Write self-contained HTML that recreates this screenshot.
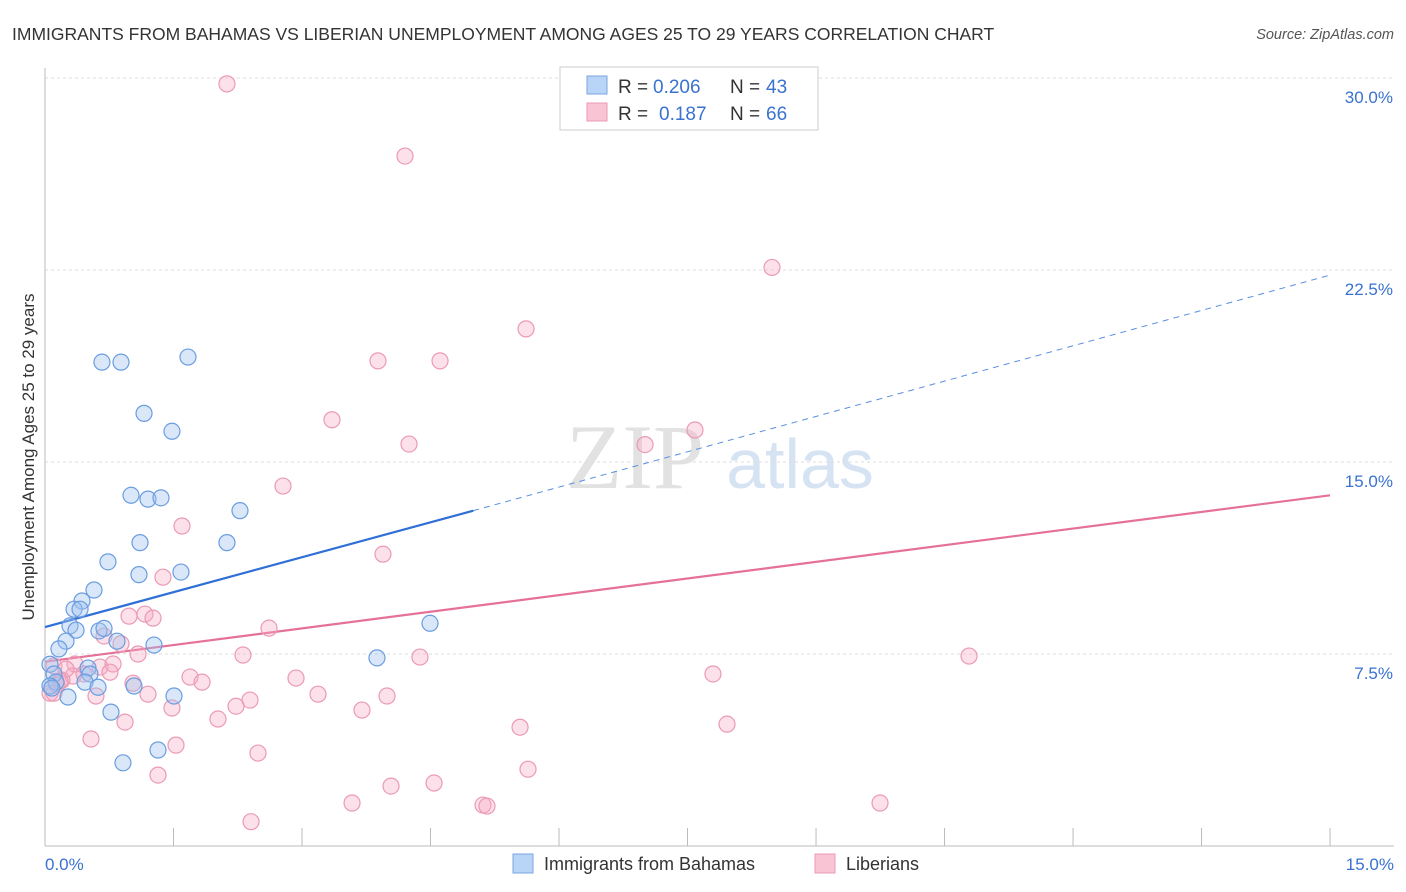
<!DOCTYPE html>
<html><head><meta charset="utf-8"><style>
body{margin:0;background:#fff;font-family:"Liberation Sans",sans-serif}
svg{display:block}
</style></head><body>
<svg id="c" width="1406" height="892">
<text x="12" y="40" font-size="17.5" fill="#333">IMMIGRANTS FROM BAHAMAS VS LIBERIAN UNEMPLOYMENT AMONG AGES 25 TO 29 YEARS CORRELATION CHART</text>
<text x="1394" y="39" font-size="14.5" fill="#555" font-style="italic" text-anchor="end">Source: ZipAtlas.com</text>
<g>
<text x="635" y="488" font-family="Liberation Serif" font-size="92" fill="#e2e2e2" text-anchor="middle">ZIP</text>
<text x="800" y="488" font-size="70" fill="#d6e3f3" text-anchor="middle">atlas</text></g>
<text transform="translate(34,457) rotate(-90)" font-size="17" fill="#333" text-anchor="middle">Unemployment Among Ages 25 to 29 years</text>
<g id="grid"></g><g id="ticks"></g><g id="lines"></g><g id="pts"></g>
<g>
<rect x="560" y="67" width="258" height="63" fill="#fff" stroke="#ccc"/>
<rect x="587" y="76" width="20" height="18" fill="#b8d4f6" stroke="#7aa6e0"/>
<rect x="587" y="103" width="20" height="18" fill="#f9c4d4" stroke="#eb9ab4"/>
<text x="618" y="93" font-size="19" fill="#333">R =</text>
<text x="653" y="93" font-size="19" fill="#3a72d0">0.206</text>
<text x="730" y="93" font-size="19" fill="#333">N =</text>
<text x="766" y="93" font-size="19" fill="#3a72d0">43</text>
<text x="618" y="120" font-size="19" fill="#333">R =</text>
<text x="659" y="120" font-size="19" fill="#3a72d0">0.187</text>
<text x="730" y="120" font-size="19" fill="#333">N =</text>
<text x="766" y="120" font-size="19" fill="#3a72d0">66</text>
</g>
<g>
<rect x="513" y="854" width="20" height="19" fill="#b8d4f6" stroke="#7aa6e0"/>
<text x="544" y="870" font-size="18" fill="#333">Immigrants from Bahamas</text>
<rect x="815" y="854" width="20" height="19" fill="#f9c4d4" stroke="#eb9ab4"/>
<text x="846" y="870" font-size="18" fill="#333">Liberians</text>
</g>
</svg>
<script>
const yTicks=[7.5,15,22.5,30];
const yTickLabels=["7.5%","15.0%","22.5%","30.0%"];
const xTickLabels=["0.0%","15.0%"];
const blueX=[0.665,0.887,1.669,1.156,1.482,1.004,1.202,1.354,2.276,1.109,2.124,0.735,1.097,1.587,0.572,0.432,0.339,0.409,0.292,0.362,0.63,0.689,0.245,0.163,1.272,0.84,3.875,4.494,0.058,0.502,0.525,0.105,0.128,0.467,0.619,1.039,0.058,0.268,1.506,0.77,1.319,0.91,0.08];
const blueY=[18.9,18.9,19.1,16.9,16.2,13.7,13.55,13.6,13.1,11.85,11.85,11.1,10.6,10.7,10.0,9.57,9.25,9.25,8.6,8.43,8.4,8.5,8.0,7.7,7.85,8.0,7.35,8.7,7.1,6.95,6.72,6.72,6.4,6.4,6.2,6.25,6.25,5.82,5.86,5.23,3.75,3.25,6.17];
const pinkX=[2.124,4.202,8.486,5.615,3.887,4.611,3.35,4.249,7.004,7.587,2.778,1.599,3.945,1.377,0.981,1.167,1.261,2.615,0.689,0.887,1.086,2.311,4.377,10.786,0.105,0.35,0.642,0.794,0.327,0.455,1.693,1.833,2.93,7.797,0.198,0.14,0.058,1.027,1.202,3.187,3.992,0.595,2.393,2.23,1.482,2.019,3.7,0.934,5.545,7.961,0.537,1.529,2.486,5.638,1.319,4.541,4.039,3.584,5.113,5.159,9.747,2.405,0.245,0.175,0.105,0.759];
const pinkY=[29.77,26.95,22.6,20.2,18.95,18.95,16.65,15.7,15.68,16.25,14.06,12.5,11.4,10.5,8.98,9.06,8.9,8.51,8.2,7.9,7.5,7.46,7.38,7.42,7.03,7.11,6.99,7.11,6.64,6.72,6.6,6.4,6.56,6.72,6.48,6.3,5.97,6.36,5.93,5.93,5.86,5.86,5.7,5.46,5.39,4.96,5.31,4.84,4.64,4.76,4.18,3.94,3.63,3.0,2.77,2.46,2.34,1.68,1.6,1.56,1.68,0.95,6.91,6.44,5.97,6.79];
const blueFit=[[0,8.55],[5.0,13.1],[15,22.3]];
const pinkFit=[[0,7.2],[15,13.7]];
const NS="http://www.w3.org/2000/svg";
const sx=v=>45+v*85.67, sy=v=>846-v*25.6;
function mk(t,a,p){const e=document.createElementNS(NS,t);for(const k in a)e.setAttribute(k,a[k]);p.appendChild(e);return e;}
const g=document.getElementById('grid'),tk=document.getElementById('ticks'),ln=document.getElementById('lines'),pt=document.getElementById('pts');
yTicks.forEach((v,i)=>{
 const l=mk('line',{x1:45,x2:1394,y1:sy(v),y2:sy(v),stroke:'#ddd','stroke-dasharray':'3,3'},g);
 
 
 const t=mk('text',{x:1393,y:sy(v)+25,'font-size':17,fill:'#3a72d0','text-anchor':'end'},tk);
 t.textContent=yTickLabels[i];
 
 
});
let ax=mk('line',{x1:45,x2:45,y1:68,y2:846,stroke:'#bbb'},tk);


let bx=mk('line',{x1:45,x2:1394,y1:846,y2:846,stroke:'#bbb'},tk);


for(let i=0;i<=10;i++){const l=mk('line',{x1:sx(i*1.5),x2:sx(i*1.5),y1:828,y2:846,stroke:'#bbb'},tk);
 
 }
[[0,'start',45],[15,'end',1394]].forEach((a,i)=>{const t=mk('text',{x:a[2],y:870,'font-size':17,fill:'#3a72d0','text-anchor':a[1]},tk);t.textContent=xTickLabels[i];
 
 });
let b1=mk('line',{x1:sx(blueFit[0][0]),y1:sy(blueFit[0][1]),x2:sx(blueFit[1][0]),y2:sy(blueFit[1][1]),stroke:'#2f6fd6','stroke-width':2.2},ln);


let b2=mk('line',{x1:sx(blueFit[1][0]),y1:sy(blueFit[1][1]),x2:sx(blueFit[2][0]),y2:sy(blueFit[2][1]),stroke:'#5a8fe0','stroke-width':1,'stroke-dasharray':'6,5'},ln);


let p1=mk('line',{x1:sx(pinkFit[0][0]),y1:sy(pinkFit[0][1]),x2:sx(pinkFit[1][0]),y2:sy(pinkFit[1][1]),stroke:'#e5709a','stroke-width':2.2},ln);


pinkX.forEach((x,i)=>{const c=mk('circle',{cx:sx(x),cy:sy(pinkY[i]),r:8,fill:'rgba(246,168,194,0.35)',stroke:'#eb9ab4','stroke-width':1.2},pt);
 
 });
blueX.forEach((x,i)=>{const c=mk('circle',{cx:sx(x),cy:sy(blueY[i]),r:8,fill:'rgba(160,196,240,0.4)',stroke:'#6a9de0','stroke-width':1.2},pt);
 
 });
</script>
</body></html>
